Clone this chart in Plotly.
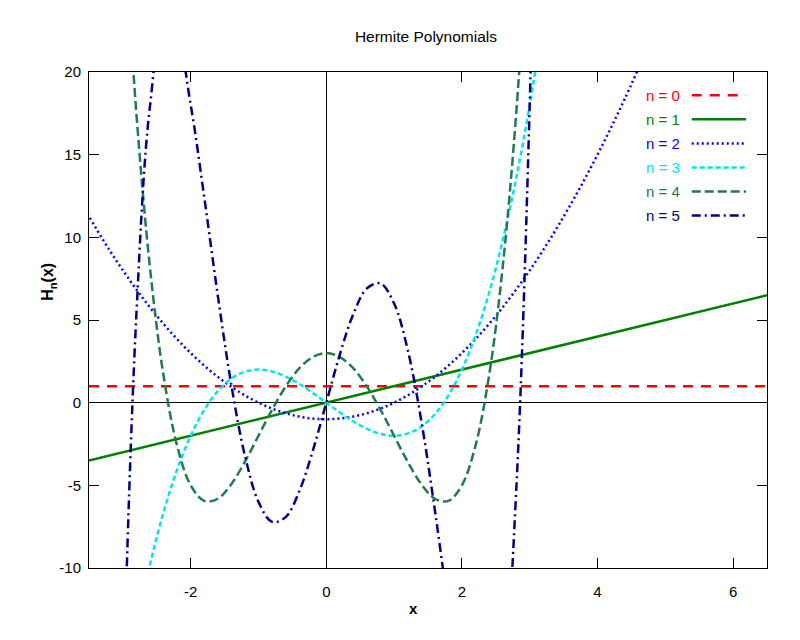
import plotly.graph_objects as go

# ── Data: probabilists' Hermite polynomials ───────────────────────────────────
X_LINE = [-3.5, 6.5]
H0 = [1.0, 1.0]
H1 = [-3.5, 6.5]

X2 = [-3.6, -3.2, -2.8, -2.4, -2.0, -1.6, -1.2, -0.8, -0.4, 0.0, 0.4, 0.8,
      1.2, 1.6, 2.0, 2.4, 2.8, 3.2, 3.6, 4.0, 4.4, 4.8]
H2 = [11.96, 9.24, 6.84, 4.76, 3.0, 1.56, 0.44, -0.36, -0.84, -1.0, -0.84, -0.36,
      0.44, 1.56, 3.0, 4.76, 6.84, 9.24, 11.96, 15.0, 18.36, 22.04]

X = [-3.2, -3.0, -2.8, -2.6, -2.4, -2.2, -2.0, -1.8, -1.6, -1.4, -1.2, -1.0,
     -0.8, -0.6, -0.4, -0.2, 0.0, 0.2, 0.4, 0.6, 0.8, 1.0, 1.2, 1.4, 1.6,
     1.8, 2.0, 2.2, 2.4, 2.6, 2.8, 3.0, 3.2]
H3 = [-23.17, -18.0, -13.55, -9.78, -6.62, -4.05, -2.0, -0.43, 0.70, 1.46,
      1.87, 2.0, 1.89, 1.58, 1.14, 0.59, 0.0, -0.59, -1.14, -1.58, -1.89, -2.0,
      -1.87, -1.46, -0.70, 0.43, 2.0, 4.05, 6.62, 9.78, 13.55, 18.0, 23.17]
H4 = [41.0, 30.0, 17.43, 8.14, 1.62, -2.61, -5.0, -5.94, -5.81, -4.92, -3.57,
      -2.0, -0.43, 0.97, 2.07, 2.76, 3.0, 2.76, 2.07, 0.97, -0.43, -2.0, -3.57,
      -4.92, -5.81, -5.94, -5.0, -2.61, 1.62, 8.14, 17.43, 30.0, 41.0]
H5 = [-55.86, -18.0, 5.42, 17.95, 22.61, 21.94, 18.0, 12.42, 6.47, 1.06,
      -3.21, -6.0, -7.21, -6.92, -5.37, -2.92, 0.0, 2.92, 5.37, 6.92, 7.21, 6.0,
      3.21, -1.06, -6.47, -12.42, -18.0, -21.94, -22.61, -17.95, -5.42, 18.0,
      55.86]

LABELS = ["n = 0", "n = 1", "n = 2", "n = 3", "n = 4", "n = 5"]
COLOURS = ["#ff0000", "#008000", "#0000ff", "#00e5ee", "#227a4e", "#00008b"]
DASHES = ["10px,8px", "solid", "2px,3px", "5px,3px", "9px,4px", "9px,4px,2px,4px"]

X_TICKS = [-2, 0, 2, 4, 6]
X_TICKTEXT = ["-2", "0", "2", "4", "6"]
Y_TICKS = [-10, -5, 0, 5, 10, 15, 20]
Y_TICKTEXT = ["-10", "-5", "0", "5", "10", "15", "20"]

series = [
    (X_LINE, H0), (X_LINE, H1), (X2, H2), (X, H3), (X, H4), (X, H5),
]

fig = go.Figure()
for (xs, ys), name, col, dash in zip(series, LABELS, COLOURS, DASHES):
    fig.add_trace(
        go.Scatter(
            x=xs, y=ys, mode="lines", name=name,
            line=dict(color=col, width=2.5, dash=dash, shape="spline"),
            showlegend=False,
        )
    )

# gnuplot-style key: label text on the left, line sample on the right
for i, (name, col, dash) in enumerate(zip(LABELS, COLOURS, DASHES)):
    yk = 0.953 - i * 0.0485
    fig.add_annotation(
        x=0.874, y=yk, xref="paper", yref="paper", text=name,
        showarrow=False, xanchor="right", yanchor="middle",
        font=dict(size=15, color=col),
    )
    fig.add_shape(
        type="line", xref="paper", yref="paper",
        x0=0.889, x1=0.969, y0=yk, y1=yk,
        line=dict(color=col, width=2.5, dash=dash),
    )

# axis labels placed like gnuplot's xlabel / ylabel
fig.add_annotation(
    x=0.478, y=-0.081, xref="paper", yref="paper", text="<b>x</b>",
    showarrow=False, xanchor="center", yanchor="middle", font=dict(size=15),
)
fig.add_annotation(
    x=-0.059, y=0.577, xref="paper", yref="paper",
    text="<b>H<sub>n</sub>(x)</b>", textangle=-90,
    showarrow=False, xanchor="center", yanchor="middle", font=dict(size=16),
)

axis_common = dict(
    showgrid=False, showline=True, linecolor="black", linewidth=1,
    mirror="ticks", ticks="inside", ticklen=10, tickcolor="black",
    zeroline=True, zerolinecolor="black", zerolinewidth=1,
    tickfont=dict(size=15, color="black"),
)

fig.update_layout(
    title=dict(text="Hermite Polynomials", xref="paper", x=0.497,
               xanchor="center", y=0.956, yanchor="middle",
               font=dict(size=15.5, color="black")),
    xaxis=dict(range=[-3.5, 6.5], tickvals=X_TICKS, ticktext=X_TICKTEXT,
               ticklabelstandoff=10, **axis_common),
    yaxis=dict(range=[-10, 20], tickvals=Y_TICKS, ticktext=Y_TICKTEXT,
               ticklabelstandoff=4, **axis_common),
    font=dict(family="Liberation Sans, Arial, sans-serif", color="black"),
    width=800, height=640,
    margin=dict(l=81, r=41, t=64, b=80),
    plot_bgcolor="#ffffff",
    paper_bgcolor="#ffffff",
)

fig.write_html("out.html")
